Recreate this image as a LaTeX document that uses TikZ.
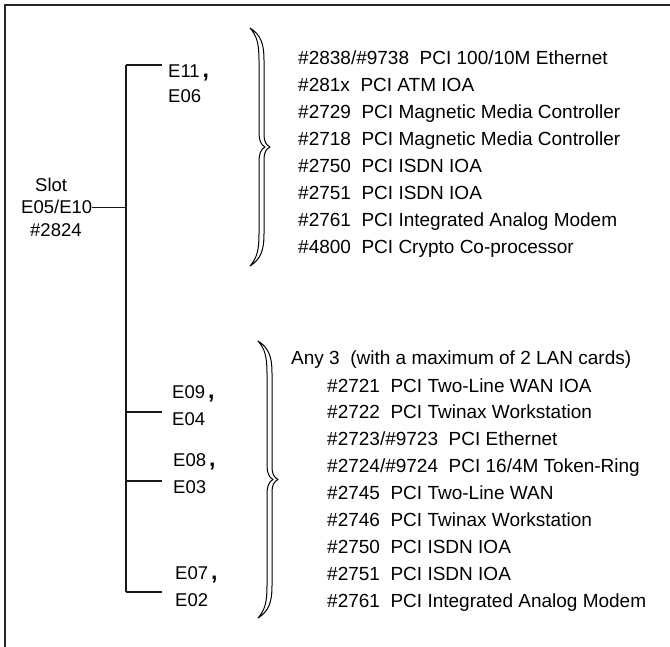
\documentclass[tikz,border=0pt]{standalone}
\usepackage{fontspec}
\setmainfont{Liberation Sans}
\newcommand\hollowbrace[3]{%
 \pgfmathsetmacro\hbm{(#2+#3)/2}%
 \draw[bracestyle] (#1,#2) .. controls ({#1+11},{#2+7}) and ({#1+14},{#2+16}) .. ({#1+14},{#2+32})
   -- ({#1+14},{\hbm-12}) .. controls ({#1+14},{\hbm-6}) and ({#1+16},{\hbm-2}) .. ({#1+20},\hbm)
   .. controls ({#1+16},{\hbm+2}) and ({#1+14},{\hbm+6}) .. ({#1+14},{\hbm+12})
   -- ({#1+14},{#3-32}) .. controls ({#1+14},{#3-16}) and ({#1+11},{#3-7}) .. (#1,#3)
   .. controls ({#1+7},{#3-8}) and ({#1+9},{#3-16}) .. ({#1+9},{#3-32})
   -- ({#1+9},{\hbm+14}) .. controls ({#1+9},{\hbm+7}) and ({#1+11},{\hbm+2}) .. ({#1+15},\hbm)
   .. controls ({#1+11},{\hbm-2}) and ({#1+9},{\hbm-7}) .. ({#1+9},{\hbm-14})
   -- ({#1+9},{#2+32}) .. controls ({#1+9},{#2+16}) and ({#1+7},{#2+8}) .. (#1,#2) -- cycle;
}
\begin{document}
\begin{tikzpicture}[x=1pt,y=-1pt,
  lbl/.style={font=\fontsize{18.5}{20}\selectfont, inner sep=0pt, anchor=base west},
  item/.style={font=\fontsize{19}{22}\selectfont, inner sep=0pt, anchor=base west},
  conn/.style={line width=1.2pt, draw=black!90},
  frame/.style={line width=1.8pt, draw=black!85},
  bracestyle/.style={draw=black, line width=1pt, fill=white, line join=round}]
\useasboundingbox (0,0) rectangle (670,647);
\draw[frame] (5,700) -- (5,5) -- (700,5);

% slot labels
\node[lbl] (slot) at (35,192) {Slot};
\node[lbl] (slotE) at (21,214) {E05/E10};
\node[lbl] (slotN) at (30,237) {\#2824};

% trunk coordinates
\coordinate (t1) at (126,65);
\coordinate (t2) at (126,412);
\coordinate (t3) at (126,481);
\coordinate (t4) at (126,592);
\coordinate (b1) at (162,65);
\coordinate (b2) at (162,412);
\coordinate (b3) at (162,481);
\coordinate (b4) at (162,592);

\draw[conn] (t1) -- (t4);
\draw[conn] (t1) -- (b1);
\draw[conn] (t2) -- (b2);
\draw[conn] (t3) -- (b3);
\draw[conn] (t4) -- (b4);
\draw[conn] (slotE.east) -- (slotE.east -| t1);

% E labels
\newcommand\bcomma{\hspace{3pt}{\bfseries\fontsize{23}{23}\selectfont ,}}
\node[lbl] (e11) at (168,78) {E11\bcomma};
\node[lbl] (e06) at (168,103) {E06};
\node[lbl] (e09) at (172,398) {E09\bcomma};
\node[lbl] (e04) at (172,425) {E04};
\node[lbl] (e08) at (173,466) {E08\bcomma};
\node[lbl] (e03) at (173,493) {E03};
\node[lbl] (e07) at (175,579) {E07\bcomma};
\node[lbl] (e02) at (175,606) {E02};

% braces
\hollowbrace{250}{28}{266}
\hollowbrace{258}{341}{618}

% list 1
\foreach \t [count=\i from 0] in {%
 \#2838/\#9738~~PCI 100/10M Ethernet,
 \#281x~~PCI ATM IOA,
 \#2729~~PCI Magnetic Media Controller,
 \#2718~~PCI Magnetic Media Controller,
 \#2750~~PCI ISDN IOA,
 \#2751~~PCI ISDN IOA,
 \#2761~~PCI Integrated Analog Modem,
 \#4800~~PCI Crypto Co-processor}
 \node[item] (a\i) at (298,{65+27*\i}) {\t};

% list 2
\node[item] (head) at (291,365) {Any 3~~(with a maximum of 2 LAN cards)};
\foreach \t [count=\i from 0] in {%
 \#2721~~PCI Two-Line WAN IOA,
 \#2722~~PCI Twinax Workstation,
 \#2723/\#9723~~PCI Ethernet,
 \#2724/\#9724~~PCI 16/4M Token-Ring,
 \#2745~~PCI Two-Line WAN,
 \#2746~~PCI Twinax Workstation,
 \#2750~~PCI ISDN IOA,
 \#2751~~PCI ISDN IOA,
 \#2761~~PCI Integrated Analog Modem}
 \node[item] (c\i) at (327,{392+26.9*\i}) {\t};
\end{tikzpicture}
\end{document}
